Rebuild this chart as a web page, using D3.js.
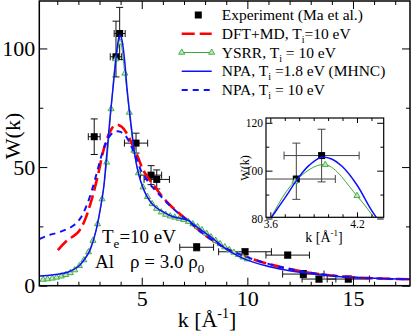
<!DOCTYPE html>
<html><head><meta charset="utf-8">
<script src="https://cdn.jsdelivr.net/npm/d3@7"></script>
<style>
body{margin:0;background:#fff}
svg{display:block}
svg text{font-family:"Liberation Serif","Times New Roman",Times,"Nimbus Roman","DejaVu Serif",serif !important;white-space:pre}
</style>
</head><body>
<svg id="c" width="415" height="332"></svg>
<script>
// ---------- DATA ----------
const expK     = [2.75, 3.78, 3.955, 4.73, 5.44, 5.71, 7.6, 9.89, 11.91, 12.65, 13.39, 14.78];
const expW     = [62.8, 96.5, 106.3, 60.1, 46.6, 44.8, 16.2, 14.3, 12.9, 4.9, 2.8, 2.8];
const expKErr  = [0.28, 0.27, 0.26, 0.55, 0.5, 0.6, 0.8, 1.25, 1.03, 0.98, 0.8, 1.0];
const expWErrHi= [7.5, 15, 11, 4.2, 4, 4, 1.5, 1.2, 1.2, 1.5, 1.2, 1.2];
const expWErrLo= [7.5, 8.5, 11, 4.2, 4, 4, 1.5, 1.2, 1.2, 1.5, 1.2, 1.2];

const dftK = [1.03,1.4,2.0,2.3,2.5,2.7,2.95,3.2,3.45,3.65,3.85,4.05,4.25,4.45,4.65,4.85,5.05,5.34,5.64,5.93,6.42,6.91,7.4,7.89,8.38,8.87,9.85,10.83,11.81,12.79,13.77,14.75,15.73,16.71,17.69];
const dftW = [15,18.5,22.7,27.5,32.5,38.5,47.5,57.5,64,67,67.8,67,64.8,61.5,57.5,53.5,49,45,41.5,38,33.3,29.5,25.8,22,19,16.3,12.5,9.6,7.4,5.7,4.5,3.7,3.2,2.9,2.7];

const ysrrK = [0.33,0.54,0.76,0.97,1.19,1.40,1.62,1.83,2.05,2.26,2.48,2.69,2.91,3.12,3.34,3.55,3.77,3.98,4.20,4.41,4.63,4.84,5.06,5.27,5.49,5.70,5.92,6.13,6.35,6.56,6.78,6.99,7.21,7.42,7.64,7.85,8.07,8.28,8.50,8.71,8.93,9.14,9.36,9.57,9.79,10.00];
const ysrrW = [2.6,2.8,3.1,3.5,4.0,4.6,5.4,6.6,8.4,10.8,14.2,19.0,26.0,36.5,52,74.5,95.5,102.5,89.5,73,57,47.5,41.5,37.5,34.5,32.5,31,30,29.3,28.8,28.3,27.8,27,26,24.8,23.5,22,20.5,19,17.6,16.3,15.1,14,13,12,11.2];

const npaK = [0.15,0.54,1.03,1.52,2.01,2.36,2.55,2.83,3.06,3.2,3.3,3.4,3.5,3.6,3.7,3.8,3.87,3.95,4.02,4.1,4.2,4.3,4.4,4.5,4.65,4.8,4.95,5.25,5.54,5.93,6.42,6.91,7.21,7.5,7.89,8.38,8.87,9.36,9.85,10.83,11.81,12.79,13.77,14.75,15.73,16.71,17.69];
const npaW = [4.1,4.3,4.8,5.8,8.2,12,15,23,33.5,41.5,51,61,71,79.8,88.5,97.5,102.3,105.5,105,101.6,94,83.5,75,67.5,56.5,49,44,37.5,34,31.5,29.3,28.2,27.5,25.5,23,19.8,16.3,13.5,11.3,8.5,6.6,5.3,4.3,3.6,3.2,2.9,2.7];

const npa10K = [0.15,0.6,1.0,1.4,1.8,2.1,2.4,2.7,2.9,3.1,3.3,3.5,3.7,3.85,4.0,4.2,4.4,4.6,4.8,4.95,5.25,5.54,5.93,6.42,6.91,7.4,7.89,8.38,8.87,9.85,10.83,11.81,12.79,13.77,14.75,15.73,16.71,17.69];
const npa10W = [19.7,21.3,22.3,23.6,25.6,28.5,34,42,48.5,55,60,63.3,64.8,65.1,64.8,63.5,60.8,56.8,52.5,48.8,44.5,41.2,37.5,33,29.3,25.8,22,19,16.3,12.5,9.6,7.4,5.7,4.5,3.7,3.2,2.9,2.7];

const xMajor = [5,10,15];
const xMinor = [1,2,3,4,6,7,8,9,11,12,13,14,16,17];
const yMajor = [0,50,100];
const yMinor = [25,75];
const insetXMajor = [3.6,4.2];
const insetXMinor = [3.7,3.8,3.9,4.0,4.1,4.3];
const insetYMajor = [80,100,120];
const insetYMinor = [90,110];

const legendRows = [
  ["Experiment (Ma et al.)","",""],
  ["DFT+MD, T","i","=10 eV"],
  ["YSRR, T","i"," = 10 eV"],
  ["NPA, T","i"," =1.8 eV (MHNC)"],
  ["NPA, T","i"," = 10 eV"]
];

// ---------- STYLES ----------
const RED="#ff0000", BLUE="#1010ff", GREEN="#3aa83a", GREENFILL="#bfe8bf";
const FONT = '"Liberation Serif","Times New Roman",Times,"Nimbus Roman","DejaVu Serif",serif';

const svg = d3.select("#c");
const L=39.3, R=410, T=1, B=285.7;
const x = d3.scaleLinear().domain([0.15,17.7]).range([L,R]);
const y = d3.scaleLinear().domain([0,120]).range([B,T]);

svg.append("defs").append("clipPath").attr("id","mainclip")
  .append("rect").attr("x",L).attr("y",T).attr("width",R-L).attr("height",B-T);

function zip(a,b){return a.map((v,i)=>[v,b[i]]);}

function drawExp(g, xs, ys, cap, col, sq){
  const pts = expK.map((k,i)=>({k, w:expW[i], ex:expKErr[i], hi:expWErrHi[i], lo:expWErrLo[i]}));
  const e = g.selectAll(null).data(pts).enter().append("g").attr("stroke",col).attr("stroke-width",1);
  e.append("line").attr("x1",d=>xs(d.k-d.ex)).attr("x2",d=>xs(d.k+d.ex)).attr("y1",d=>ys(d.w)).attr("y2",d=>ys(d.w));
  e.append("line").attr("x1",d=>xs(d.k-d.ex)).attr("x2",d=>xs(d.k-d.ex)).attr("y1",d=>ys(d.w)-cap).attr("y2",d=>ys(d.w)+cap);
  e.append("line").attr("x1",d=>xs(d.k+d.ex)).attr("x2",d=>xs(d.k+d.ex)).attr("y1",d=>ys(d.w)-cap).attr("y2",d=>ys(d.w)+cap);
  e.append("line").attr("x1",d=>xs(d.k)).attr("x2",d=>xs(d.k)).attr("y1",d=>ys(d.w-d.lo)).attr("y2",d=>ys(d.w+d.hi));
  e.append("line").attr("x1",d=>xs(d.k)-cap).attr("x2",d=>xs(d.k)+cap).attr("y1",d=>ys(d.w-d.lo)).attr("y2",d=>ys(d.w-d.lo));
  e.append("line").attr("x1",d=>xs(d.k)-cap).attr("x2",d=>xs(d.k)+cap).attr("y1",d=>ys(d.w+d.hi)).attr("y2",d=>ys(d.w+d.hi));
  e.append("rect").attr("x",d=>xs(d.k)-sq/2).attr("y",d=>ys(d.w)-sq/2).attr("width",sq).attr("height",sq).attr("fill","#000").attr("stroke","none");
}

function drawCurves(g, xs, ys, tri){
  const line = d3.line().x(d=>xs(d[0])).y(d=>ys(d[1])).curve(d3.curveCatmullRom.alpha(0.5));
  g.append("path").attr("d",line(zip(dftK,dftW))).attr("fill","none").attr("stroke",RED).attr("stroke-width",2.6).attr("stroke-dasharray","13,5");
  g.append("path").attr("d",line(zip(ysrrK,ysrrW))).attr("fill","none").attr("stroke",GREEN).attr("stroke-width",1);
  const triSym = d3.symbol().type(d3.symbolTriangle).size(tri);
  g.selectAll(null).data(zip(ysrrK,ysrrW)).enter().append("path").attr("d",triSym)
    .attr("transform",d=>`translate(${xs(d[0])},${ys(d[1])})`).attr("fill",GREENFILL).attr("stroke",GREEN).attr("stroke-width",0.9);
  g.append("path").attr("d",line(zip(npaK,npaW))).attr("fill","none").attr("stroke",BLUE).attr("stroke-width",1.5);
  g.append("path").attr("d",line(zip(npa10K,npa10W))).attr("fill","none").attr("stroke",BLUE).attr("stroke-width",2).attr("stroke-dasharray","6,5");
}

// main plot
const gm = svg.append("g").attr("clip-path","url(#mainclip)");
drawExp(gm, x, y, 3.5, "#111", 7);
drawCurves(gm, x, y, 16);

// axes
function styleAxis(g, fs){
  g.attr("font-family",FONT).attr("font-size",fs);
  g.select(".domain").remove();
  g.selectAll("text").attr("font-family",FONT).attr("font-size",fs).attr("fill","#000");
  g.selectAll("line").attr("stroke","#000");
}
styleAxis(svg.append("g").attr("transform",`translate(0,${B})`).call(d3.axisBottom(x).tickValues(xMajor).tickSize(-8).tickPadding(5).tickFormat(d3.format("d"))),22);
styleAxis(svg.append("g").attr("transform",`translate(0,${B})`).call(d3.axisBottom(x).tickValues(xMinor).tickSize(-4).tickFormat("")),22);
styleAxis(svg.append("g").attr("transform",`translate(0,${T})`).call(d3.axisTop(x).tickValues(xMajor).tickSize(-8).tickFormat("")),22);
styleAxis(svg.append("g").attr("transform",`translate(0,${T})`).call(d3.axisTop(x).tickValues(xMinor).tickSize(-4).tickFormat("")),22);
styleAxis(svg.append("g").attr("transform",`translate(${L},0)`).call(d3.axisLeft(y).tickValues(yMajor).tickSize(-8).tickPadding(4).tickFormat(d3.format("d"))),22);
styleAxis(svg.append("g").attr("transform",`translate(${L},0)`).call(d3.axisLeft(y).tickValues(yMinor).tickSize(-4).tickFormat("")),22);
styleAxis(svg.append("g").attr("transform",`translate(${R},0)`).call(d3.axisRight(y).tickValues(yMajor).tickSize(-8).tickFormat("")),22);
styleAxis(svg.append("g").attr("transform",`translate(${R},0)`).call(d3.axisRight(y).tickValues(yMinor).tickSize(-4).tickFormat("")),22);
svg.append("rect").attr("x",L).attr("y",T).attr("width",R-L).attr("height",B-T).attr("fill","none").attr("stroke","#000").attr("stroke-width",1.5);

// axis titles
const xt = svg.append("text").attr("x",207).attr("y",327).attr("text-anchor","middle").attr("font-family",FONT).attr("font-size",22);
xt.append("tspan").text("k [Å");
xt.append("tspan").attr("font-size",14).attr("dy",-9).text("-1");
xt.append("tspan").attr("dy",9).text("]");
svg.append("text").attr("transform","translate(19.5,136) rotate(-90)").attr("text-anchor","middle").attr("font-family",FONT).attr("font-size",22).text("W(k)");

// legend
const lg = svg.append("g").attr("font-family",FONT);
legendRows.forEach((r,i)=>{
  const cy = 15 + i*18.75;
  const t = lg.append("text").attr("x",221.7).attr("y",cy+5).attr("font-size",15.5);
  t.append("tspan").text(r[0]);
  if(r[1]){ t.append("tspan").attr("font-size",10).attr("dy",4).text(r[1]); t.append("tspan").attr("dy",-4).text(r[2]); }
});
const lx1=181.7, lx2=211.7;
lg.append("rect").attr("x",198.3-3.5).attr("y",15-3.5).attr("width",7).attr("height",7).attr("fill","#000");
lg.append("line").attr("x1",lx1).attr("x2",lx2).attr("y1",33.75).attr("y2",33.75).attr("stroke",RED).attr("stroke-width",2.6).attr("stroke-dasharray","13,5");
lg.append("line").attr("x1",lx1).attr("x2",lx2).attr("y1",52.5).attr("y2",52.5).attr("stroke",GREEN).attr("stroke-width",1);
[lx1,lx2].forEach(px=>lg.append("path").attr("d",d3.symbol().type(d3.symbolTriangle).size(16)()).attr("transform",`translate(${px},52.5)`).attr("fill",GREENFILL).attr("stroke",GREEN).attr("stroke-width",0.9));
lg.append("line").attr("x1",lx1).attr("x2",lx2).attr("y1",71.25).attr("y2",71.25).attr("stroke",BLUE).attr("stroke-width",1.5);
lg.append("line").attr("x1",lx1).attr("x2",lx2).attr("y1",90).attr("y2",90).attr("stroke",BLUE).attr("stroke-width",2).attr("stroke-dasharray","6,5");

// annotations
const a1 = svg.append("text").attr("x",102).attr("y",243).attr("font-family",FONT).attr("font-size",19);
a1.append("tspan").text("T");
a1.append("tspan").attr("font-size",13).attr("dy",5).text("e");
a1.append("tspan").attr("dy",-5).text("=10 eV");
svg.append("text").attr("x",95).attr("y",268).attr("font-family",FONT).attr("font-size",19).text("Al");
const a2 = svg.append("text").attr("x",130).attr("y",268).attr("font-family",FONT).attr("font-size",19);
a2.append("tspan").text("ρ = 3.0 ρ");
a2.append("tspan").attr("font-size",13).attr("dy",5).text("0");

// inset
const IL=266, IR=383.7, IT=118, IB=217.3;
const xi = d3.scaleLinear().domain([3.57,4.385]).range([IL,IR]);
const yi = d3.scaleLinear().domain([80.5,122]).range([IB,IT]);
svg.append("rect").attr("x",IL).attr("y",IT).attr("width",IR-IL).attr("height",IB-IT).attr("fill","#fff");
svg.select("defs").append("clipPath").attr("id","insclip")
  .append("rect").attr("x",IL).attr("y",IT).attr("width",IR-IL).attr("height",IB-IT);
const gi = svg.append("g").attr("clip-path","url(#insclip)");
drawExp(gi, xi, yi, 4, "#444", 7);
{
  const line = d3.line().x(d=>xi(d[0])).y(d=>yi(d[1])).curve(d3.curveCatmullRom.alpha(0.5));
  gi.append("path").attr("d",line(zip(ysrrK,ysrrW))).attr("fill","none").attr("stroke",GREEN).attr("stroke-width",1);
  gi.selectAll(null).data(zip(ysrrK,ysrrW)).enter().append("path").attr("d",d3.symbol().type(d3.symbolTriangle).size(16)())
    .attr("transform",d=>`translate(${xi(d[0])},${yi(d[1])})`).attr("fill",GREENFILL).attr("stroke",GREEN).attr("stroke-width",0.9);
  gi.append("path").attr("d",line(zip(npaK,npaW))).attr("fill","none").attr("stroke",BLUE).attr("stroke-width",1.5);
}
styleAxis(svg.append("g").attr("transform",`translate(0,${IB})`).call(d3.axisBottom(xi).tickValues(insetXMajor).tickSize(-5).tickPadding(3).tickFormat(d3.format(".1f"))),11.5);
styleAxis(svg.append("g").attr("transform",`translate(0,${IB})`).call(d3.axisBottom(xi).tickValues(insetXMinor).tickSize(-3).tickFormat("")),11.5);
styleAxis(svg.append("g").attr("transform",`translate(0,${IT})`).call(d3.axisTop(xi).tickValues(insetXMajor).tickSize(-5).tickFormat("")),11.5);
styleAxis(svg.append("g").attr("transform",`translate(0,${IT})`).call(d3.axisTop(xi).tickValues(insetXMinor).tickSize(-3).tickFormat("")),11.5);
styleAxis(svg.append("g").attr("transform",`translate(${IL},0)`).call(d3.axisLeft(yi).tickValues(insetYMajor).tickSize(-6.5).tickPadding(3).tickFormat(d3.format("d"))),11.5);
styleAxis(svg.append("g").attr("transform",`translate(${IL},0)`).call(d3.axisLeft(yi).tickValues(insetYMinor).tickSize(-3.3).tickFormat("")),11.5);
styleAxis(svg.append("g").attr("transform",`translate(${IR},0)`).call(d3.axisRight(yi).tickValues(insetYMajor).tickSize(-6.5).tickFormat("")),11.5);
styleAxis(svg.append("g").attr("transform",`translate(${IR},0)`).call(d3.axisRight(yi).tickValues(insetYMinor).tickSize(-3.3).tickFormat("")),11.5);
svg.append("rect").attr("x",IL).attr("y",IT).attr("width",IR-IL).attr("height",IB-IT).attr("fill","none").attr("stroke","#000").attr("stroke-width",1.2);
const ixt = svg.append("text").attr("x",324).attr("y",241.5).attr("text-anchor","middle").attr("font-family",FONT).attr("font-size",14);
ixt.append("tspan").text("k [Å");
ixt.append("tspan").attr("font-size",9).attr("dy",-6).text("-1");
ixt.append("tspan").attr("dy",6).text("]");
svg.append("text").attr("transform","translate(249,168) rotate(-90)").attr("text-anchor","middle").attr("font-family",FONT).attr("font-size",12).text("W(k)");
</script>
</body></html>
